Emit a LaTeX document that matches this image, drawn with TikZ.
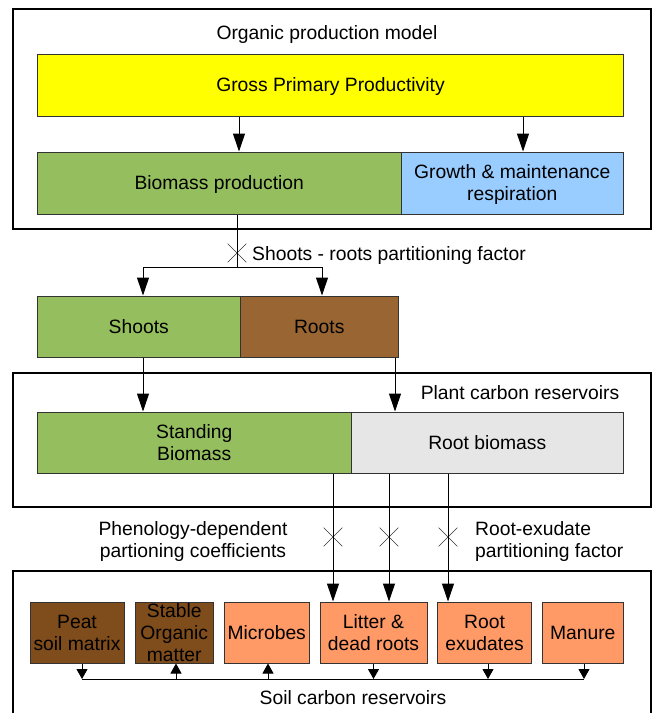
\documentclass[tikz,border=0pt]{standalone}
\usepackage{fontspec}
\setmainfont{Liberation Sans}
\usepackage{tikz}
\usetikzlibrary{shapes,arrows,positioning,calc,arrows.meta}

\definecolor{gppyellow}{HTML}{FFFF00}
\definecolor{biogreen}{HTML}{95BF5E}
\definecolor{respblue}{HTML}{99CCFF}
\definecolor{rootbrown}{HTML}{996633}
\definecolor{rootgray}{HTML}{E6E6E6}
\definecolor{peatbrown}{HTML}{7F4C1B}
\definecolor{soilorange}{HTML}{FF9966}

\begin{document}
\begin{tikzpicture}[x=1pt, y=-1pt,
    font=\fontsize{19.3}{22}\selectfont,
    every node/.append style={text depth=0pt},
    box/.style={draw=black!80, line width=1pt, rectangle, align=center, inner sep=1pt},
    frame/.style={draw=black, line width=2pt},
    arr/.style={line width=1pt, -{Triangle[length=18pt, width=12pt]}},
    sarr/.style={line width=1pt, -{Triangle[length=10pt, width=11pt]}},
    xmark/.style={cross out, draw=black!80, line width=0.6pt, minimum size=18pt, inner sep=0pt}]
    \useasboundingbox (0,0) rectangle (653,713);

    \draw[frame] (13,9) rectangle (651,229);
    \draw[frame] (13,373) rectangle (651,507);
    \draw[frame] (13,720) |- (651,571) -- (651,720);

    \node (OPM) at (327,33) {Organic production model};
    \node [box, fill=gppyellow, minimum width=586pt, minimum height=62pt] (GPP) at (330.5,85) {Gross Primary Productivity};
    \node [box, fill=biogreen, minimum width=363.5pt, minimum height=62pt] (BP) at (219.25,183) {Biomass production};
    \node [box, fill=respblue, minimum width=222.5pt, minimum height=62pt] (GMR) at (512.25,183) {Growth \& maintenance\\respiration};

    \node [box, fill=biogreen, minimum width=202.5pt, minimum height=61pt] (SH) at (138.75,326.5) {Shoots};
    \node [box, fill=rootbrown, minimum width=158.5pt, minimum height=61pt] (RT) at (319.25,326.5) {Roots};

    \node (PCR) at (520,393) {Plant carbon reservoirs};
    \node [box, fill=biogreen, minimum width=313.5pt, minimum height=61pt] (SB) at (194.25,442.5) {Standing\\Biomass};
    \node [box, fill=rootgray, minimum width=272.5pt, minimum height=61pt] (RB) at (487.25,442.5) {Root biomass};

    \node [box, fill=peatbrown, minimum width=94pt, minimum height=61pt, inner sep=0pt] (PSM) at (77,632.5) {Peat\\soil matrix};
    \node [box, fill=peatbrown, minimum width=78.5pt, minimum height=61pt, inner sep=0pt] (SOM) at (174.25,632.5) {Stable\\Organic\\matter};
    \node [box, fill=soilorange, minimum width=84.5pt, minimum height=61pt, inner sep=0pt] (MIC) at (266.75,632.5) {Microbes};
    \node [box, fill=soilorange, minimum width=107pt, minimum height=61pt, inner sep=0pt] (LDR) at (373.5,632.5) {Litter \&\\dead roots};
    \node [box, fill=soilorange, minimum width=94pt, minimum height=61pt, inner sep=0pt] (REX) at (484.5,632.5) {Root\\exudates};
    \node [box, fill=soilorange, minimum width=81.5pt, minimum height=61pt, inner sep=0pt] (MAN) at (582.75,632.5) {Manure};
    \node (SCR) at (353,697) {Soil carbon reservoirs};

    \draw[arr] (GPP.south -| 239,0) -- (BP.north -| 239,0);
    \draw[arr] (GPP.south -| 523,0) -- (GMR.north -| 523,0);

    \coordinate (SPL) at (237,267);
    \node [xmark] (XSR) at (237,253) {};
    \node [anchor=west, inner sep=0pt] (SRF) at (252,254) {Shoots - roots partitioning factor};
    \draw[line width=1pt] (BP.south -| SPL) -- (SPL);
    \draw[arr] (SPL) -| (SH.north -| 143,0);
    \draw[arr] (SPL) -| (RT.north -| 322,0);

    \draw[arr] (SH.south -| 143,0) -- (SB.north -| 143,0);
    \draw[arr] (RT.south -| 395,0) -- (RB.north -| 395,0);

    \node [xmark] (X1) at (333,537) {};
    \node [xmark] (X2) at (389,537) {};
    \node [xmark] (X3) at (448,537) {};
    \node [align=center, inner sep=0pt] (PDC) at (193,539) {Phenology-dependent\\partioning coefficients};
    \node [align=left, anchor=west, inner sep=0pt] (REF) at (475,539) {Root-exudate\\partitioning factor};
    \draw[arr] (RB.south -| X1) -- (LDR.north -| X1);
    \draw[arr] (RB.south -| X2) -- (LDR.north -| X2);
    \draw[arr] (RB.south -| X3) -- (REX.north -| X3);

    \coordinate (BL) at (82,679);
    \coordinate (BR) at (584,679);
    \draw[line width=1pt] (BL) -- (BR);
    \draw[sarr] (PSM.south -| BL) -- (BL);
    \draw[sarr] (BL -| 176,0) -- (SOM.south -| 176,0);
    \draw[sarr] (BL -| 268,0) -- (MIC.south -| 268,0);
    \draw[sarr] (LDR.south) -- (BL -| LDR.south);
    \draw[sarr] (REX.south -| 488,0) -- (BL -| 488,0);
    \draw[sarr] (MAN.south -| BR) -- (BR);
\end{tikzpicture}
\end{document}
